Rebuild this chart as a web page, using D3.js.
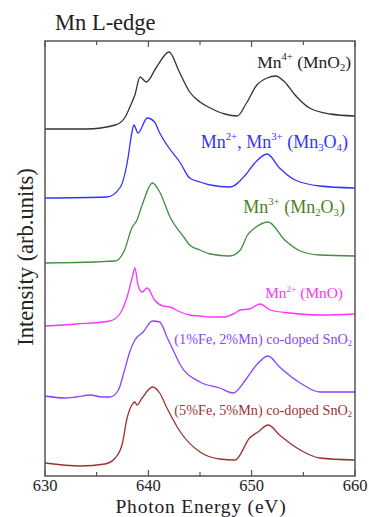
<!DOCTYPE html>
<html>
<head>
<meta charset="utf-8">
<script src="https://cdn.jsdelivr.net/npm/d3@7"></script>
<style>
  body { margin: 0; background: #fff; }
</style>
</head>
<body>
<div id="chart"></div>
<script>
// Mn L-edge XAS spectra, stacked (arb. units, offsets included)
const xTicks = [630, 640, 650, 660]
const xMinor = [635, 645, 655]

const mno2 = [[630,6.94],[634,6.94],[636.8,7.02],[637.7,7.16],[638.3,7.42],[638.7,7.62],[639.2,7.98],[639.8,7.88],[640.8,8.18],[642.0,8.48],[643.0,8.08],[644.0,7.68],[645.0,7.48],[646.0,7.36],[647.4,7.24],[648.6,7.20],[649.5,7.46],[650.5,7.82],[651.5,7.96],[652.3,8.00],[653.2,7.88],[654.2,7.62],[655.6,7.36],[657.6,7.24],[660,7.20]]
const mn3o4 = [[630,5.56],[636.0,5.58],[637.3,5.78],[638.0,6.32],[638.4,6.86],[638.6,7.02],[639.0,6.86],[639.9,7.16],[640.6,7.08],[641.1,6.86],[641.8,6.62],[643.1,6.26],[644.0,5.96],[645.0,5.88],[646.0,5.82],[647.9,5.78],[649.4,6.02],[650.3,6.26],[651.5,6.44],[652.7,6.16],[654.2,5.92],[656.6,5.80],[660,5.76]]
const mn2o3 = [[630,4.26],[636.8,4.30],[637.7,4.52],[638.4,4.96],[638.9,5.12],[639.4,5.42],[640.4,5.86],[641.1,5.68],[642.1,5.18],[643.5,4.76],[644.0,4.62],[645.0,4.52],[646.0,4.44],[647.9,4.40],[648.9,4.52],[649.6,4.82],[650.3,4.96],[651.6,5.08],[653.2,4.72],[654.7,4.50],[656.6,4.42],[660,4.40]]
const mno = [[630,3.00],[633,3.04],[636.3,3.10],[637.3,3.26],[638.0,3.62],[638.5,4.02],[638.7,4.16],[639.0,3.82],[639.4,3.68],[639.9,3.76],[640.6,3.52],[641.4,3.40],[642.1,3.38],[643.1,3.28],[644.0,3.22],[645.0,3.20],[646.0,3.18],[647.4,3.18],[648.4,3.26],[648.9,3.32],[649.8,3.34],[650.8,3.44],[651.8,3.32],[653.7,3.26],[656.6,3.22],[660,3.24]]
const fe1mn2 = [[630,1.60],[631.9,1.56],[633,1.58],[634.4,1.62],[635.5,1.58],[636.3,1.58],[637.1,1.72],[637.7,2.12],[638.2,2.48],[638.7,2.72],[639.5,2.88],[640.4,3.10],[641.1,3.08],[641.8,2.78],[642.4,2.52],[643.1,2.22],[645.0,1.88],[646.9,1.76],[648.2,1.66],[649.4,1.92],[650.3,2.18],[651.6,2.40],[652.7,2.18],[654.7,1.86],[656.6,1.68],[660,1.68]]
const fe5mn5 = [[630,0.26],[633.4,0.20],[635.8,0.24],[636.8,0.36],[637.5,0.66],[637.9,1.12],[638.4,1.42],[638.7,1.48],[638.9,1.42],[639.4,1.56],[640.4,1.78],[641.1,1.66],[641.8,1.36],[643.1,0.88],[645.0,0.48],[646.9,0.34],[648.4,0.32],[649.8,0.76],[650.6,0.88],[651.6,1.02],[652.7,0.82],[654.7,0.52],[656.6,0.36],[660,0.32]]

const series = [
  { data: mno2,   color: "#333333", text: "#222222", label: [["Mn",""],["4+","sup"],[" (MnO",""],["2","sub"],[")",""]], lx: 351, ly: 68, fs: 17.5 },
  { data: mn3o4,  color: "#3333ff", text: "#3333ff", label: [["Mn",""],["2+","sup"],[", Mn",""],["3+","sup"],[" (Mn",""],["3","sub"],["O",""],["4","sub"],[")",""]], lx: 348, ly: 148, fs: 18 },
  { data: mn2o3,  color: "#3f8f3f", text: "#4a8020", label: [["Mn",""],["3+","sup"],[" (Mn",""],["2","sub"],["O",""],["3","sub"],[")",""]], lx: 345, ly: 213, fs: 18 },
  { data: mno,    color: "#ff33ff", text: "#ff33ff", label: [["Mn",""],["2+","sup"],[" (MnO)",""]], lx: 343, ly: 298, fs: 15.4 },
  { data: fe1mn2, color: "#8844ff", text: "#8844ff", label: [["(1%Fe, 2%Mn) co-doped SnO",""],["2","sub"]], lx: 352, ly: 344, fs: 14.2 },
  { data: fe5mn5, color: "#993333", text: "#993333", label: [["(5%Fe, 5%Mn) co-doped SnO",""],["2","sub"]], lx: 352, ly: 415, fs: 14.2 }
]

let width = 369
let height = 517
const margin = { top: 41, right: 14, bottom: 41, left: 45 }
const w = width - margin.left - margin.right
const h = height - margin.top - margin.bottom
const serif = "'Liberation Serif', 'Times New Roman', Times, 'DejaVu Serif', serif"

const svg = d3.select("#chart").append("svg")
  .attr("width", width)
  .attr("height", height)
  .attr("font-family", serif)
  .style("font-family", serif)

const g = svg.append("g")
  .attr("transform", "translate(" + margin.left + "," + margin.top + ")")

const x = d3.scaleLinear().domain([630, 660]).range([0, w])
const y = d3.scaleLinear().domain([0, 8.7]).range([h, 0])

// ticks, inside on top and bottom
const tickG = g.append("g").attr("stroke", "#333").attr("stroke-width", 1)
xTicks.forEach(t => {
  tickG.append("line").attr("x1", x(t)).attr("x2", x(t)).attr("y1", 0).attr("y2", 6)
  tickG.append("line").attr("x1", x(t)).attr("x2", x(t)).attr("y1", h).attr("y2", h - 6)
})
xMinor.forEach(t => {
  tickG.append("line").attr("x1", x(t)).attr("x2", x(t)).attr("y1", 0).attr("y2", 4)
  tickG.append("line").attr("x1", x(t)).attr("x2", x(t)).attr("y1", h).attr("y2", h - 4)
})

const line = d3.line()
  .x(d => x(d[0]))
  .y(d => y(d[1]))
  .curve(d3.curveMonotoneX)

series.forEach(s => {
  g.append("path")
    .datum(s.data)
    .attr("fill", "none")
    .attr("stroke", s.color)
    .attr("stroke-width", 1.3)
    .attr("d", line)

  const t = svg.append("text")
    .attr("x", s.lx)
    .attr("y", s.ly)
    .attr("text-anchor", "end")
    .attr("fill", s.text)
    .attr("font-size", s.fs)
  s.label.forEach(p => {
    const sp = t.append("tspan").text(p[0])
    if (p[1] === "sup") sp.attr("font-size", s.fs * 0.6).attr("baseline-shift", "70%")
    if (p[1] === "sub") sp.attr("font-size", s.fs * 0.6).attr("baseline-shift", "-25%")
  })
})

// frame
g.append("rect")
  .attr("width", w).attr("height", h)
  .attr("fill", "none")
  .attr("stroke", "#555")
  .attr("stroke-width", 1.5)

// x tick labels
g.selectAll(".xl").data(xTicks).enter().append("text")
  .attr("x", d => x(d))
  .attr("y", h + 15)
  .attr("text-anchor", "middle")
  .attr("font-size", 16.5)
  .attr("fill", "#222")
  .text(d => d)

svg.append("text")
  .attr("x", margin.left + w / 2 + 1)
  .attr("y", 512.5)
  .attr("text-anchor", "middle")
  .attr("font-size", 19.5)
  .attr("letter-spacing", 0.8)
  .attr("fill", "#222")
  .text("Photon Energy (eV)")

svg.append("text")
  .attr("transform", "translate(33,257) rotate(-90)")
  .attr("text-anchor", "middle")
  .attr("font-size", 22.5)
  .attr("fill", "#222")
  .text("Intensity (arb.units)")

svg.append("text")
  .attr("x", 55)
  .attr("y", 30)
  .attr("font-size", 22.5)
  .attr("fill", "#222")
  .text("Mn L-edge")
</script>
</body>
</html>
